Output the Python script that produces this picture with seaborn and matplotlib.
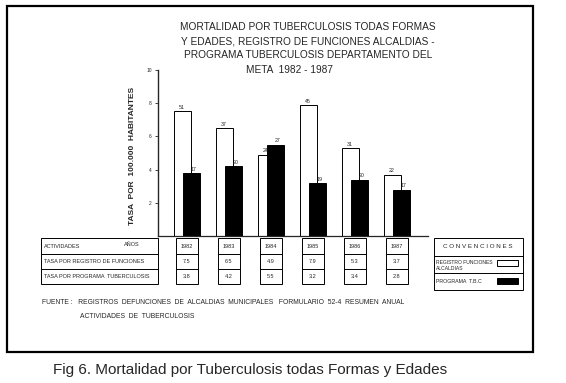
import matplotlib
matplotlib.use("Agg")
import matplotlib.pyplot as plt
from matplotlib.patches import Rectangle
from matplotlib.lines import Line2D
from matplotlib import transforms
import seaborn as sns
import pandas as pd

# ---- data ----
years = [1982, 1983, 1984, 1985, 1986, 1987]
registro = [7.5, 6.5, 4.9, 7.9, 5.3, 3.7]
programa = [3.8, 4.2, 5.5, 3.2, 3.4, 2.8]
registro_counts = ["51", "37", "24", "45", "31", "22"]
programa_counts = ["17", "20", "27", "19", "20", "17"]
yticks = [2, 4, 6, 8, 10]
title_lines = ["MORTALIDAD POR TUBERCULOSIS TODAS FORMAS",
               "Y EDADES, REGISTRO DE FUNCIONES ALCALDIAS -",
               "PROGRAMA TUBERCULOSIS DEPARTAMENTO DEL",
               "META  1982 - 1987"]
ylabel = "TASA  POR  100.000  HABITANTES"
row_labels = ["ACTIVIDADES", "TASA POR REGISTRO DE FUNCIONES", "TASA POR PROGRAMA  TUBERCULOSIS"]
years_header = "AÑOS"
legend_title = "C O N V E N C I O N E S"
legend_labels = ["REGISTRO FUNCIONES", "ALCALDIAS", "PROGRAMA  T.B.C"]
source_lines = ["FUENTE :   REGISTROS  DEFUNCIONES  DE  ALCALDIAS  MUNICIPALES   FORMULARIO  52-4  RESUMEN  ANUAL",
                "ACTIVIDADES  DE  TUBERCULOSIS"]
caption = "Fig 6. Mortalidad por Tuberculosis todas Formas y Edades"

sns.set_style("ticks")
plt.rcParams['font.family'] = ['Liberation Sans', 'DejaVu Sans']

W, H = 566, 383
fig = plt.figure(figsize=(W / 100, H / 100), dpi=100)
fig.patch.set_facecolor("white")


def fx(px):
    return px / W


def fy(py):
    return 1 - py / H


ax = fig.add_axes([fx(158), fy(236), fx(428) - fx(158), fy(70) - fy(236)])

df_r = pd.DataFrame({"pos": [y - 0.1 for y in years], "val": registro})
df_p = pd.DataFrame({"pos": [y + 0.1 for y in years], "val": programa})
sns.barplot(data=df_r, x="pos", y="val", native_scale=True, width=0.4,
            color="white", edgecolor="black", linewidth=0.7, saturation=1, ax=ax)
sns.barplot(data=df_p, x="pos", y="val", native_scale=True, width=0.4,
            color="black", edgecolor="black", linewidth=0.7, saturation=1, ax=ax)

ax.set_xlim(1981.31, 1987.74)
ax.set_ylim(0, 10)
ax.set_xticks([])
ax.set_yticks(yticks)
ax.set_yticklabels([str(t) for t in yticks], fontsize=3.5)
ax.tick_params(axis="y", length=2.5, width=0.6, pad=2)
ax.set_xlabel("")
ax.set_ylabel("")
for s in ["top", "right"]:
    ax.spines[s].set_visible(False)
ax.spines["left"].set_linewidth(1.0)
ax.spines["bottom"].set_linewidth(0.9)
ax.set_facecolor("none")

for y, v, c in zip(years, registro, registro_counts):
    ax.text(y - 0.12, v + 0.08, c, fontsize=3.8, ha="center", va="bottom")
for y, v, c in zip(years, programa, programa_counts):
    ax.text(y + 0.16, v + 0.08, c, fontsize=3.8, ha="center", va="bottom")

# y label
fig.text(fx(133), fy(156), ylabel, rotation=90, fontsize=6, fontweight="bold",
         ha="center", va="center")

# title
for i, line in enumerate(title_lines):
    xc = 308 if i < 3 else 290
    fig.text(fx(xc), fy(27 + 14.2 * i), line, fontsize=7.3, ha="center", va="center")

# table
rows_y = [238, 254, 269, 284]
lw = 0.7
fig.add_artist(Rectangle((fx(41), fy(284)), fx(158) - fx(41), fy(238) - fy(284),
                         transform=fig.transFigure, fill=False, lw=lw, ec="black"))
for ry in rows_y[1:3]:
    fig.add_artist(Line2D([fx(41), fx(158)], [fy(ry), fy(ry)], transform=fig.transFigure,
                          lw=lw, color="black"))
for i, lab in enumerate(row_labels):
    fig.text(fx(44), fy((rows_y[i] + rows_y[i + 1]) / 2), lab, fontsize=4, ha="left", va="center")
fig.text(fx(124), fy(244), years_header, fontsize=4, ha="left", va="center")

trans = transforms.blended_transform_factory(ax.transData, fig.transFigure)
bw = 0.53
for y, r, p in zip(years, registro, programa):
    fig.add_artist(Rectangle((y - bw / 2, fy(284)), bw, fy(238) - fy(284), transform=trans,
                             fill=False, lw=lw, ec="black"))
    for ry in rows_y[1:3]:
        fig.add_artist(Line2D([y - bw / 2, y + bw / 2], [fy(ry), fy(ry)], transform=trans,
                              lw=lw, color="black"))
    for i, t in enumerate([str(y), f"{r:.1f}", f"{p:.1f}"]):
        fig.text(y, fy((rows_y[i] + rows_y[i + 1]) / 2), t, transform=trans,
                 fontsize=4, ha="center", va="center")

# legend box
fig.add_artist(Rectangle((fx(434), fy(290)), fx(523) - fx(434), fy(238) - fy(290),
                         transform=fig.transFigure, fill=False, lw=lw, ec="black"))
for ry in [256, 273]:
    fig.add_artist(Line2D([fx(434), fx(523)], [fy(ry), fy(ry)], transform=fig.transFigure,
                          lw=lw, color="black"))
fig.text(fx(478), fy(247), legend_title, fontsize=4.5, ha="center", va="center")
fig.text(fx(436), fy(262), legend_labels[0], fontsize=3.6, ha="left", va="center")
fig.text(fx(436), fy(268), legend_labels[1], fontsize=3.6, ha="left", va="center")
fig.text(fx(436), fy(281.5), legend_labels[2], fontsize=3.8, ha="left", va="center")
fig.add_artist(Rectangle((fx(497), fy(266)), fx(518) - fx(497), fy(260) - fy(266),
                         transform=fig.transFigure, facecolor="white", lw=lw, ec="black"))
fig.add_artist(Rectangle((fx(497), fy(284)), fx(518) - fx(497), fy(278) - fy(284),
                         transform=fig.transFigure, facecolor="black", lw=lw, ec="black"))

# source
fig.text(fx(42), fy(302), source_lines[0], fontsize=4.9, ha="left", va="center")
fig.text(fx(80), fy(316), source_lines[1], fontsize=4.9, ha="left", va="center")

# outer frame
fig.add_artist(Rectangle((fx(7), fy(352)), fx(533) - fx(7), fy(6) - fy(352),
                         transform=fig.transFigure, fill=False, lw=1.6, ec="black"))

# caption
fig.text(fx(53), fy(370), caption, fontsize=11, ha="left", va="center")

fig.savefig("out.png", dpi=100, facecolor="white")
